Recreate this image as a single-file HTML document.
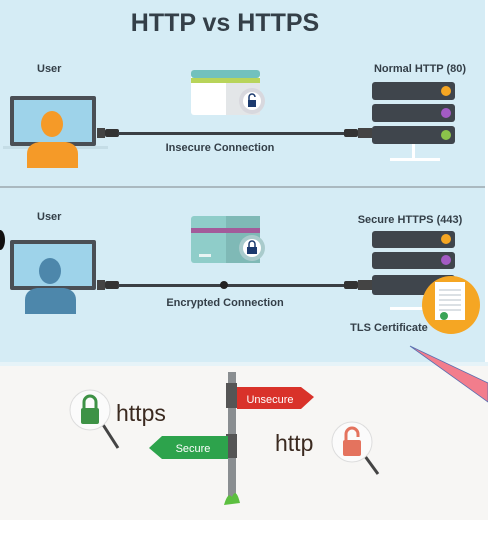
<!DOCTYPE html>
<html><head><meta charset="utf-8"><style>
html,body{margin:0;padding:0;background:#fff;width:488px;height:536px;overflow:hidden}
svg{display:block}
text{font-family:"Liberation Sans",sans-serif;font-weight:bold;fill:#343f48}
</style></head><body>
<svg width="488" height="536" viewBox="0 0 488 536">
<rect x="0" y="0" width="485" height="362" fill="#d5ecf5"/>
<rect x="0" y="186" width="485" height="2" fill="#aab9c0"/>
<text x="225" y="31" font-size="25" text-anchor="middle">HTTP vs HTTPS</text>

<text x="37" y="72" font-size="11">User</text>
<rect x="10" y="96" width="86" height="50" rx="2" fill="#4a4f55"/>
<rect x="14" y="100" width="78" height="42" fill="#9ed3ea"/>
<rect x="3" y="146" width="105" height="3" fill="#c5dde6"/>
<path d="M27 168 v-14 q0-10 12-12 h27 q12 2 12 12 v14 z" fill="#f59a28"/>
<ellipse cx="52" cy="124" rx="11" ry="13" fill="#f59a28"/>
<rect x="97" y="128" width="8" height="10" fill="#444"/><rect x="105" y="129" width="14" height="8" rx="2" fill="#333"/>
<rect x="118" y="132" width="230" height="3" fill="#3a3f44"/>
<rect x="344" y="129" width="14" height="8" rx="2" fill="#333"/><rect x="358" y="128" width="14" height="10" fill="#444"/>
<rect x="191" y="70" width="69" height="45" rx="3" fill="#fff"/>
<rect x="226" y="78" width="34" height="37" fill="#e3e6e8"/>
<rect x="191" y="70" width="69" height="8" rx="3" fill="#72c1bd"/>
<rect x="191" y="78" width="69" height="5" fill="#b8d45a"/>
<circle cx="252" cy="101" r="13" fill="#d8d8de"/><circle cx="252" cy="101" r="9" fill="#fff"/>
<rect x="248" y="100" width="8" height="7" fill="#1c3a6e"/><path d="M249 100 v-3 a3 3 0 0 1 6 0" stroke="#1c3a6e" stroke-width="1.5" fill="none"/>
<text x="220" y="151" font-size="11" text-anchor="middle">Insecure Connection</text>
<text x="420" y="72" font-size="11" text-anchor="middle">Normal HTTP (80)</text>
<g fill="#3f454c">
<rect x="372" y="82" width="83" height="18" rx="3"/><rect x="372" y="104" width="83" height="18" rx="3"/><rect x="372" y="126" width="83" height="18" rx="3"/></g>
<circle cx="446" cy="91" r="5" fill="#f5a623"/><circle cx="446" cy="113" r="5" fill="#a35bc4"/><circle cx="446" cy="135" r="5" fill="#8bc34a"/>
<rect x="412" y="144" width="3" height="16" fill="#fff"/><rect x="390" y="158" width="50" height="3" fill="#fff"/>

<path d="M0 230 a5 10 0 0 1 0 20z" fill="#111"/>
<text x="37" y="220" font-size="11">User</text>
<rect x="10" y="240" width="86" height="50" rx="2" fill="#4a4f55"/>
<rect x="14" y="244" width="78" height="42" fill="#9ed3ea"/>
<path d="M25 314 v-14 q0-10 12-12 h27 q12 2 12 12 v14 z" fill="#4d87ab"/>
<ellipse cx="50" cy="271" rx="11" ry="13" fill="#4d87ab"/>
<rect x="97" y="280" width="8" height="10" fill="#444"/><rect x="105" y="281" width="14" height="8" rx="2" fill="#333"/>
<rect x="118" y="284" width="230" height="3" fill="#3a3f44"/>
<circle cx="224" cy="285" r="4" fill="#222"/>
<rect x="344" y="281" width="14" height="8" rx="2" fill="#333"/><rect x="358" y="280" width="14" height="10" fill="#444"/>
<rect x="191" y="216" width="69" height="47" rx="3" fill="#8fcdc9"/>
<rect x="226" y="216" width="34" height="47" fill="#7fb9b6"/>
<rect x="191" y="228" width="69" height="5" fill="#a35b9a"/>
<rect x="199" y="254" width="12" height="3" fill="#e8f4f3"/>
<circle cx="252" cy="248" r="13" fill="#a9cbcc"/><circle cx="252" cy="248" r="9" fill="#fff"/>
<rect x="247" y="247" width="10" height="7" fill="#1c3a6e"/><path d="M249 247 v-3 a3 3 0 0 1 6 0 v3" stroke="#1c3a6e" stroke-width="1.5" fill="none"/>
<text x="225" y="306" font-size="11" text-anchor="middle">Encrypted Connection</text>
<text x="410" y="223" font-size="11" text-anchor="middle">Secure HTTPS (443)</text>
<g fill="#3f454c">
<rect x="372" y="231" width="83" height="17" rx="3"/><rect x="372" y="252" width="83" height="17" rx="3"/><rect x="372" y="275" width="83" height="20" rx="3"/></g>
<circle cx="446" cy="239" r="5" fill="#f5a623"/><circle cx="446" cy="260" r="5" fill="#a35bc4"/>
<rect x="390" y="307" width="45" height="3" fill="#fff"/>
<circle cx="451" cy="305" r="29" fill="#f5a623"/>
<rect x="435" y="282" width="30" height="38" fill="#fff"/>
<g stroke="#b7c2c8" stroke-width="1"><line x1="439" y1="290" x2="461" y2="290"/><line x1="439" y1="295" x2="461" y2="295"/><line x1="439" y1="300" x2="461" y2="300"/><line x1="439" y1="305" x2="461" y2="305"/><line x1="439" y1="310" x2="461" y2="310"/></g>
<circle cx="444" cy="316" r="4" fill="#3aa457"/>
<text x="389" y="331" font-size="11" text-anchor="middle">TLS Certificate</text>

<rect x="0" y="362" width="488" height="158" fill="#f7f6f4"/>
<rect x="0" y="362" width="488" height="4" fill="#e6f3f8"/>
<rect x="228" y="372" width="8" height="130" fill="#8a8e91"/>
<rect x="226" y="383" width="11" height="25" fill="#555"/><rect x="226" y="434" width="11" height="24" fill="#555"/>
<path d="M224 505 q4-14 8-8 q4-10 8 6z" fill="#5cbf3f"/>
<path d="M237 387 h64 l13 10 l-13 12 h-64z" fill="#d9322a"/>
<text x="270" y="403" font-size="11" text-anchor="middle" style="fill:#fff;font-weight:normal">Unsecure</text>
<path d="M228 436 h-66 l-13 12 l13 11 h66z" fill="#2da34c"/>
<text x="193" y="452" font-size="11" text-anchor="middle" style="fill:#fff;font-weight:normal">Secure</text>
<line x1="100" y1="420" x2="118" y2="448" stroke="#444" stroke-width="3"/>
<circle cx="90" cy="410" r="20" fill="#fbfbfb" stroke="#ddd"/>
<rect x="81" y="408" width="18" height="16" rx="2" fill="#3e9246"/><path d="M84 408 v-6 a6 6 0 0 1 12 0 v6" stroke="#3e9246" stroke-width="3" fill="none"/>
<text x="116" y="421" font-size="23" style="fill:#3b2a20;font-weight:normal">https</text>
<text x="275" y="451" font-size="23" style="fill:#3b2a20;font-weight:normal">http</text>
<line x1="362" y1="452" x2="378" y2="474" stroke="#444" stroke-width="3"/>
<circle cx="352" cy="442" r="20" fill="#fbfbfb" stroke="#ddd"/>
<rect x="343" y="440" width="18" height="16" rx="2" fill="#e4735e"/><path d="M346 440 v-6 a6 6 0 0 1 12 0 v3" stroke="#e4735e" stroke-width="3" fill="none"/>
<path d="M410 346 L488 383 L488 402 Z" fill="#f27d8c" stroke="#5a6fb0" stroke-width="0.8"/>
</svg>
</body></html>
